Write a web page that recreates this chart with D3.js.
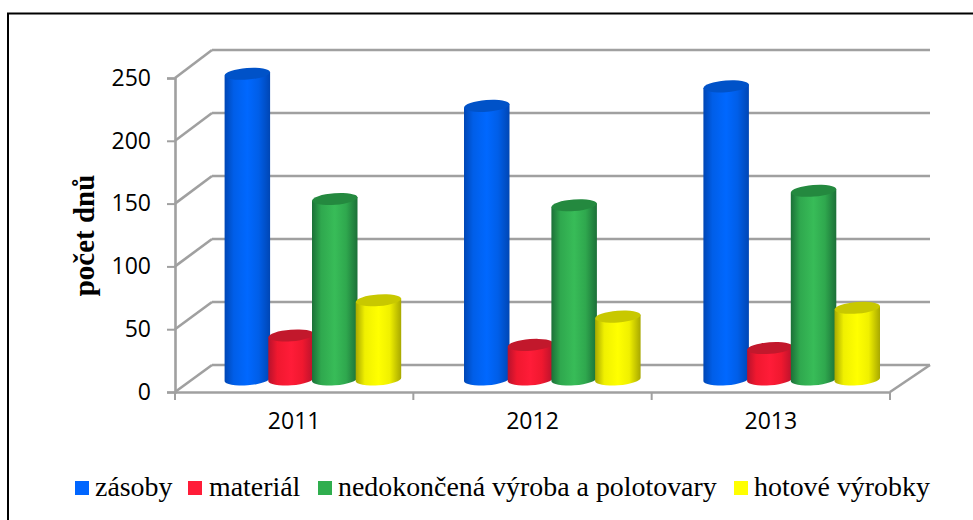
<!DOCTYPE html>
<html><head><meta charset="utf-8">
<script src="https://cdn.jsdelivr.net/npm/d3@7"></script>
<style>html,body{margin:0;padding:0;background:#fff}svg{display:block}</style>
</head><body><svg id="c" width="973" height="520"></svg>
<script>
const years = ["2011","2012","2013"];
const seriesNames = ["zásoby","materiál","nedokončená výroba a polotovary","hotové výrobky"];
const zasoby = [243,217.5,233];
const material = [35,27.5,25];
const nedokoncena = [143.5,138.5,150];
const hotove = [63,50,57];
const yTicks = [0,50,100,150,200,250];
const seriesValues = [zasoby,material,nedokoncena,hotove];
const legendSwatchX = [75,188,318,734];
const legendTextX = [95,209,338,754];
const edgeColors = ["#0046b4","#b8122c","#1c7038","#a8a800"];
const midColors = ["#005ee8","#f0182f","#2fa84e","#f0f000"];
const brightColors = ["#0068ff","#ff1c38","#38bc58","#ffff00"];
const topColors = ["#0052c8","#c2182c","#24893f","#c8c800"];
const legendColors = ["#0066ff","#ff1c38","#2fae4e","#ffff00"];

const svg = d3.select("#c");
const gridC = "#a0a0a0", gridW = 2.6;
const yFront = d3.scaleLinear().domain([0,250]).range([392,78]);
const yBack = d3.scaleLinear().domain([0,250]).range([365,50]);
const yBar = d3.scaleLinear().domain([0,250]).range([379.5,65]);
const xFront = d3.scaleBand().domain(years).range([175,890]);
const xGroup = d3.scaleBand().domain(years).range([193.2,911.4]);
const xSeries = d3.scaleBand().domain(d3.range(4)).range([-87.4,87.4]);
const barW = 45.5, rx = barW/2, ry = 5.8, tilt = -4.5;
const dy = Math.sin(tilt*Math.PI/180)*rx;

svg.append("path").attr("d","M8,520V13.5H973").attr("fill","none").attr("stroke","#000").attr("stroke-width",2);

const defs = svg.append("defs");
edgeColors.forEach((c,i)=>{
  const g = defs.append("linearGradient").attr("id","g"+i);
  [[0,c],[.2,midColors[i]],[.5,brightColors[i]],[.75,midColors[i]],[1,c]].forEach(s=>
    g.append("stop").attr("offset",s[0]).attr("stop-color",s[1]));
});

const grid = svg.append("g").attr("fill","none").attr("stroke",gridC).attr("stroke-width",gridW);
yTicks.forEach(t=>{
  grid.append("line").attr("x1",212).attr("x2",930).attr("y1",yBack(t)).attr("y2",yBack(t));
  grid.append("line").attr("x1",175).attr("x2",212).attr("y1",yFront(t)).attr("y2",yBack(t));
});
grid.append("line").attr("x1",890).attr("x2",930).attr("y1",yFront(0)).attr("y2",yBack(0));

const yAxis = d3.axisLeft(yFront).tickValues(yTicks).tickSize(8).tickPadding(16).tickFormat(d3.format("d"));
const gy = svg.append("g").attr("transform","translate(175,0)").call(yAxis);
const xAxis = d3.axisBottom(xFront).tickSize(0).tickPadding(21);
const gx = svg.append("g").attr("transform","translate(0,392)").call(xAxis);
[gy,gx].forEach(g=>{
  g.selectAll("path").attr("stroke",gridC).attr("stroke-width",gridW);
  g.selectAll("line").attr("stroke",gridC).attr("stroke-width",2);
  g.selectAll("text").attr("fill","#000").style("font-family","Open Sans").style("font-size","23px");
});
const edges = [...years.map(y=>xFront(y)), xFront("2013")+xFront.bandwidth()];
svg.append("g").selectAll("line").data(edges).join("line")
  .attr("x1",d=>d).attr("x2",d=>d).attr("y1",392).attr("y2",400)
  .attr("stroke",gridC).attr("stroke-width",2);

const bars = svg.append("g");
years.forEach((y,yi)=>{
  seriesValues.forEach((vals,si)=>{
    const cx = xGroup(y)+xGroup.bandwidth()/2+xSeries(si)+xSeries.bandwidth()/2;
    const l = cx-rx, r = cx+rx, t = yBar(vals[yi]), b = yBar(0);
    bars.append("path").attr("fill",`url(#g${si})`)
      .attr("d",`M${l},${t-dy}L${l},${b-dy}A${rx},${ry} ${tilt} 0 0 ${r},${b+dy}L${r},${t+dy}Z`);
    bars.append("ellipse").attr("cx",0).attr("cy",0).attr("rx",rx).attr("ry",ry)
      .attr("fill",topColors[si])
      .attr("transform",`translate(${cx},${t}) rotate(${tilt})`);
  });
});

svg.append("text").attr("transform","translate(94,235.5) rotate(-90)").attr("text-anchor","middle")
  .style("font-family","Liberation Serif").style("font-weight","bold").style("font-size","29px")
  .attr("fill","#000").text("počet dnů");

const leg = svg.append("g");
seriesNames.forEach((n,i)=>{
  leg.append("rect").attr("x",legendSwatchX[i]).attr("y",481).attr("width",14).attr("height",14).attr("fill",legendColors[i]);
  leg.append("text").attr("x",legendTextX[i]).attr("y",496)
    .style("font-family","Liberation Serif").style("font-size","27.9px").attr("fill","#000").text(n);
});
</script></body></html>
